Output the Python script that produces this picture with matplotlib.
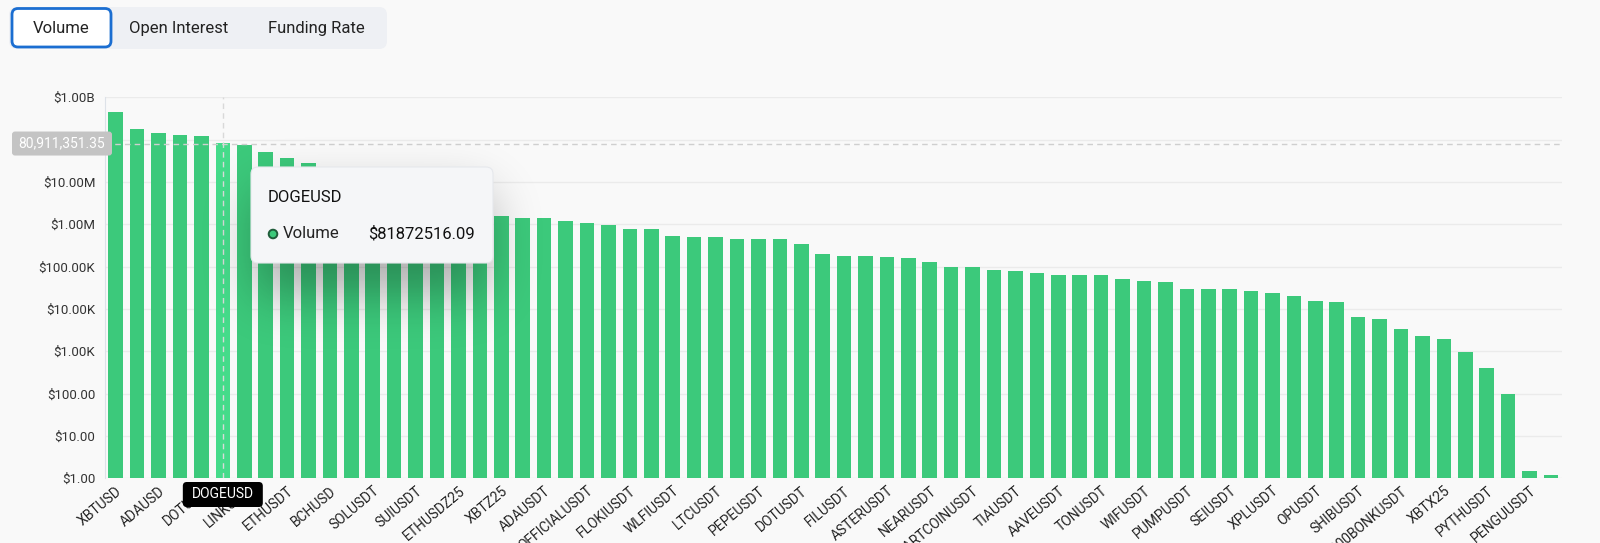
import numpy as np
import matplotlib
matplotlib.use("Agg")
import matplotlib.pyplot as plt
from matplotlib.patches import FancyBboxPatch, Circle
from matplotlib.ticker import FixedLocator, NullLocator

# ---- data --------------------------------------------------------------
symbols = [
    "XBTUSD", "", "ADAUSD", "", "DOTUSD", "DOGEUSD", "LINKUSD", "", "ETHUSDT", "",
    "BCHUSD", "", "SOLUSDT", "", "SUIUSDT", "", "ETHUSDZ25", "", "XBTZ25", "",
    "ADAUSDT", "", "OFFICIALUSDT", "", "FLOKIUSDT", "", "WLFIUSDT", "", "LTCUSDT", "",
    "PEPEUSDT", "", "DOTUSDT", "", "FILUSDT", "", "ASTERUSDT", "", "NEARUSDT", "",
    "FARTCOINUSDT", "", "TIAUSDT", "", "AAVEUSDT", "", "TONUSDT", "", "WIFUSDT", "",
    "PUMPUSDT", "", "SEIUSDT", "", "XPLUSDT", "", "OPUSDT", "", "SHIBUSDT", "",
    "1000BONKUSDT", "", "XBTX25", "", "PYTHUSDT", "", "PENGUUSDT", "",
]
volumes = [
    448e6, 178e6, 144e6, 131e6, 120e6, 81872516.09, 73.6e6, 50.4e6, 37.1e6, 28.3e6,
    22e6, 16e6, 11e6, 7.5e6, 5.0e6, 3.5e6, 2.6e6, 2.0e6, 1.57e6, 1.44e6,
    1.38e6, 1.18e6, 1.06e6, 0.98e6, 776e3, 763e3, 522e3, 495e3, 495e3, 460e3,
    460e3, 460e3, 345e3, 204e3, 180e3, 180e3, 167e3, 159e3, 132e3, 95.6e3,
    95.6e3, 82.7e3, 76.9e3, 71.6e3, 64.3e3, 64.3e3, 64.3e3, 51.8e3, 44.8e3, 43.2e3,
    29.6e3, 29.6e3, 29.6e3, 27.0e3, 24.2e3, 19.9e3, 15.7e3, 14.4e3, 6.6e3, 5.9e3,
    3.38e3, 2.36e3, 1.93e3, 940, 409, 96.5, 1.49, 1.20,
]
y_ticks = [1, 10, 100, 1e3, 1e4, 1e5, 1e6, 1e7, 1e8, 1e9]
tabs = ["Volume", "Open Interest", "Funding Rate"]
hover_idx = 5
cursor_value = 80911351.35

W, H = 1600, 543
BG = "#f9f9f9"
GREEN = "#3cc97b"
GREEN_HI = "#45db8a"
FONT = ["Roboto", "DejaVu Sans"]

plt.rcParams.update({"font.family": FONT})


def money(v):
    for lim, suf in ((1e9, "B"), (1e6, "M"), (1e3, "K")):
        if v >= lim:
            return f"${v / lim:.2f}{suf}"
    return f"${v:.2f}"


fig = plt.figure(figsize=(W / 100, H / 100), dpi=100, facecolor=BG)
ax = fig.add_axes([105 / W, 1 - 478.3 / H, (1561.7 - 105) / W, (478.3 - 97.3) / H])
ax.set_facecolor(BG)

x = np.arange(len(volumes))
colors = [GREEN_HI if i == hover_idx else GREEN for i in x]
ax.bar(x, volumes, width=0.68, color=colors, zorder=2)

ax.set_yscale("log")
ax.set_ylim(1, 1e9)
ax.set_xlim(-0.5, len(volumes) - 0.5)
ax.yaxis.set_major_locator(FixedLocator(y_ticks))
ax.yaxis.set_minor_locator(NullLocator())
# the $100.00M label sits under the crosshair value box, so leave it blank
ax.set_yticklabels(["" if v == 1e8 else money(v) for v in y_ticks])
ax.grid(axis="y", color="#ebebeb", lw=1, zorder=0)
ax.set_axisbelow(True)

shown = x[::2]
ax.set_xticks(shown)
ax.set_xticklabels([symbols[i] for i in shown], rotation=40, ha="right",
                   va="top", rotation_mode="anchor")
ax.tick_params(axis="x", length=0, pad=4, labelsize=10, labelcolor="#222222")
ax.tick_params(axis="y", length=0, pad=7, labelsize=9.5, labelcolor="#333333")
for s in ("top", "right", "bottom"):
    ax.spines[s].set_visible(False)
ax.spines["left"].set_color("#dde2e8")

# crosshair
ax.axhline(cursor_value, color="#cfcfcf", lw=1, ls=(0, (4, 3)), zorder=3)
ax.axvline(hover_idx, color="#d9d9d9", lw=1, ls=(0, (4, 3)), zorder=3)

# ---- overlay in pixel coords ------------------------------------------
ov = fig.add_axes([0, 0, 1, 1], zorder=5)
ov.set_facecolor("none")

# tooltip shadow
tx0, ty0, tx1, ty1 = 251, 167, 493, 263
yy, xx = np.mgrid[0:H, 0:W]
mask = ((xx >= tx0 + 5) & (xx <= tx1 - 5) & (yy >= ty0 + 25) & (yy <= ty1 + 30)).astype(float)
k = np.exp(-0.5 * (np.arange(-75, 76) / 25.0) ** 2)
k /= k.sum()
mask = np.apply_along_axis(lambda r: np.convolve(r, k, mode="same"), 1, mask)
mask = np.apply_along_axis(lambda c: np.convolve(c, k, mode="same"), 0, mask)
shadow = np.zeros((H, W, 4))
shadow[..., 3] = mask * 0.3
ov.imshow(shadow, extent=(0, W, H, 0), aspect="auto", zorder=1, interpolation="bilinear")
ov.set_xlim(0, W)
ov.set_ylim(H, 0)
ov.axis("off")

ov.add_patch(FancyBboxPatch((tx0, ty0), tx1 - tx0, ty1 - ty0,
                            boxstyle="round,pad=0,rounding_size=7",
                            fc="#f5f6f8", ec="#e6e8ec", lw=0.8, zorder=2))
ov.text(tx0 + 17, 197, symbols[hover_idx], fontsize=12, color="#111111",
        va="center", ha="left", zorder=3)
ov.add_patch(Circle((tx0 + 22, 234), 4.3, fc=GREEN, ec="#1f5c3a", lw=1.4, zorder=3))
ov.text(tx0 + 32, 234, "Volume", fontsize=12, color="#222222",
        va="center", ha="left", zorder=3)
ov.text(tx1 - 18, 234, f"${volumes[hover_idx]:.2f}", fontsize=12, color="#111111",
        va="center", ha="right", zorder=3)

# crosshair labels
px, py = ax.transData.transform((hover_idx, cursor_value))
cy = H - py
ov.add_patch(FancyBboxPatch((12, cy - 12), 100, 24,
                            boxstyle="round,pad=0,rounding_size=3",
                            fc="#c4c4c4", ec="none", zorder=2))
ov.text(62, cy, f"{cursor_value:,.2f}", fontsize=10, color="white",
        ha="center", va="center", zorder=3)
ov.add_patch(FancyBboxPatch((px - 40, 482), 80, 25,
                            boxstyle="round,pad=0,rounding_size=4",
                            fc="#000000", ec="none", zorder=2))
ov.text(px, 494.5, symbols[hover_idx], fontsize=10, color="white",
        ha="center", va="center", zorder=3)

# tab bar
ov.add_patch(FancyBboxPatch((9, 7), 378, 42, boxstyle="round,pad=0,rounding_size=8",
                            fc="#eef0f4", ec="none", zorder=2))
ov.add_patch(FancyBboxPatch((12, 8.5), 99, 38.5, boxstyle="round,pad=0,rounding_size=6",
                            fc="white", ec="#1b6ed1", lw=2, zorder=3))
for label, cx in zip(tabs, [61.5, 179, 316]):
    ov.text(cx, 28.5, label, fontsize=12, color="#222222",
            ha="center", va="center", zorder=4)

fig.savefig("out.png", dpi=100, facecolor=BG)
